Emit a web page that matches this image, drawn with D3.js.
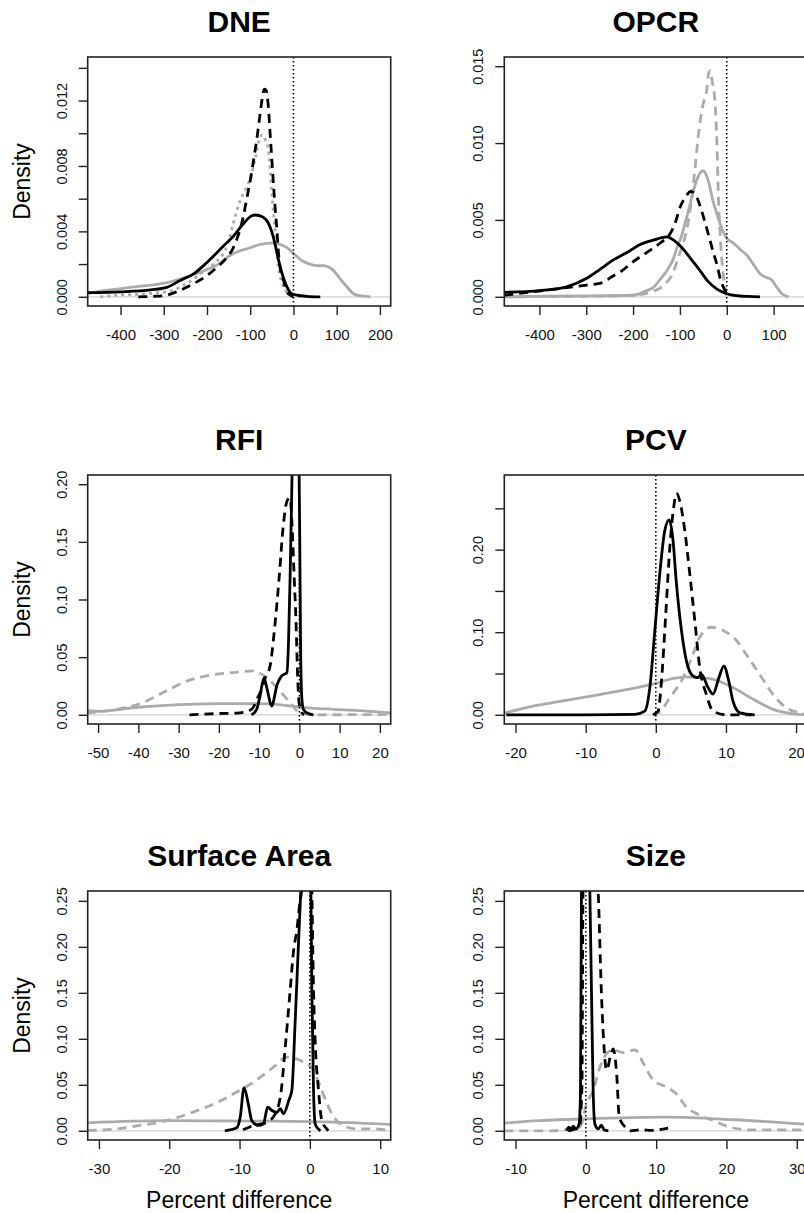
<!DOCTYPE html>
<html>
<head>
<meta charset="utf-8">
<script src="https://cdn.jsdelivr.net/npm/d3@7"></script>
<style>
  body { margin: 0; background: #fff; }
  svg { display: block; font-family: "Liberation Sans", Arial, sans-serif; }
</style>
</head>
<body>
<div id="chart"></div>
<script>
// panel titles, in reading order
var titles = ["DNE", "OPCR", "RFI", "PCV", "Surface Area", "Size"];

// data ranges of each panel (R pads them by 4%)
var xLimits = [[-450, 199], [-451, 148], [-49.8, 19.9], [-20, 20], [-30, 9.9], [-10, 29.9]];
var yLimits = [[0, 0.0141], [0, 0.015], [0, 0.2], [0, 0.2792], [0, 0.2507], [0, 0.2507]];

var xTicks = [
  [-400, -300, -200, -100, 0, 100, 200],
  [-400, -300, -200, -100, 0, 100],
  [-50, -40, -30, -20, -10, 0, 10, 20],
  [-20, -10, 0, 10, 20],
  [-30, -20, -10, 0, 10],
  [-10, 0, 10, 20, 30]
];
var yTicks = [
  [0, 0.002, 0.004, 0.006, 0.008, 0.010, 0.012, 0.014],
  [0, 0.005, 0.010, 0.015],
  [0, 0.05, 0.10, 0.15, 0.20],
  [0, 0.05, 0.10, 0.15, 0.20, 0.25],
  [0, 0.05, 0.10, 0.15, 0.20, 0.25],
  [0, 0.05, 0.10, 0.15, 0.20, 0.25]
];
var yTickLabels = [
  ["0.000", "", "0.004", "", "0.008", "", "0.012", ""],
  ["0.000", "0.005", "0.010", "0.015"],
  ["0.00", "0.05", "0.10", "0.15", "0.20"],
  ["0.00", "", "0.10", "", "0.20", ""],
  ["0.00", "0.05", "0.10", "0.15", "0.20", "0.25"],
  ["0.00", "0.05", "0.10", "0.15", "0.20", "0.25"]
];

// density curves, [percent difference, density]
var dneBlackSolid = [[-476,0.00025],[-400,0.0003],[-330,0.00042],[-293,0.00057],[-262,0.001],[-231,0.0014],[-200,0.0021],[-162,0.0031],[-139,0.0037],[-115,0.0045],[-100,0.0049],[-88,0.005],[-72,0.0049],[-58,0.0045],[-45,0.0035],[-35,0.0023],[-25,0.0013],[-15,0.0006],[-5,0.0002],[8,0.0001],[30,0.00003],[62,0]];
var dneBlackDashed = [[-359,0],[-320,0.00003],[-293,0.0001],[-262,0.0004],[-231,0.0008],[-200,0.0013],[-177,0.0018],[-154,0.0024],[-139,0.003],[-125,0.004],[-116,0.0049],[-108,0.006],[-100,0.0071],[-92,0.0084],[-85,0.0096],[-78,0.011],[-73,0.012],[-67,0.0127],[-63,0.0126],[-58,0.0116],[-54,0.01],[-50,0.0084],[-46,0.0068],[-42,0.0053],[-38,0.004],[-34.7,0.0027],[-29,0.0015],[-23,0.001],[-15,0.0003],[-7.6,0.0001],[0,0]];
var dneGraySolid = [[-476,0.0002],[-430,0.0004],[-370,0.0006],[-293,0.00086],[-250,0.0012],[-216,0.0015],[-180,0.0019],[-139,0.00265],[-100,0.003],[-77,0.0032],[-45,0.0033],[-30,0.0032],[-15,0.003],[0,0.00265],[20,0.0022],[38,0.002],[55,0.0019],[69,0.0019],[82,0.0018],[93,0.0016],[108,0.0011],[124,0.0006],[138,0.0002],[150,0.00008],[178,0]];
var dneGrayDotted = [[-447,0],[-400,0.0001],[-330,0.0002],[-278,0.0004],[-262,0.0006],[-235,0.001],[-216,0.0014],[-185,0.002],[-154,0.0031],[-135,0.0049],[-123,0.0059],[-110,0.0066],[-98,0.0074],[-88,0.0085],[-80,0.0095],[-73,0.0099],[-65,0.0096],[-58,0.009],[-50,0.0063],[-42,0.0039],[-34.7,0.0018],[-26,0.0008],[-19,0.0004],[0,0.0001],[20,0]];

var opcrBlackSolid = [[-475,0.00029],[-400,0.0004],[-342,0.00065],[-299,0.0012],[-270,0.0018],[-242,0.0024],[-212,0.0029],[-185,0.0034],[-155,0.0037],[-128,0.0039],[-110,0.0036],[-93,0.0031],[-75,0.0024],[-57,0.0017],[-40,0.001],[-21,0.0005],[0,0.0002],[20,0.00007],[45,0.00002],[71,0]];
var opcrBlackDashed = [[-475,0.0001],[-420,0.0003],[-342,0.0006],[-299,0.00076],[-271,0.00087],[-240,0.0014],[-228,0.0016],[-199,0.0023],[-185,0.0026],[-160,0.0031],[-142,0.0035],[-121,0.0041],[-110,0.0048],[-100,0.0058],[-88,0.0065],[-77,0.00685],[-66,0.0066],[-57,0.0059],[-46,0.0048],[-36,0.0037],[-28,0.0028],[-21,0.0021],[-14,0.0012],[-7,0.0006],[0,0.0002],[5,0]];
var opcrGraySolid = [[-475,0],[-340,0.00005],[-200,0.0001],[-171,0.0004],[-157,0.0006],[-143,0.0011],[-128,0.0017],[-115,0.0024],[-105,0.0033],[-96,0.004],[-88,0.0049],[-80,0.0058],[-72,0.0068],[-64,0.0076],[-56,0.0081],[-51,0.0082],[-45,0.008],[-39,0.0075],[-30,0.0063],[-20,0.0053],[-10,0.0044],[0,0.0038],[14,0.0035],[28,0.0031],[43,0.0027],[57,0.0021],[71,0.0015],[85,0.00125],[96,0.0011],[105,0.0007],[117,0.00022],[132,0]];
var opcrGrayDashed = [[-475,0],[-300,0.00003],[-200,0.0001],[-150,0.00044],[-130,0.0009],[-117,0.0014],[-103,0.0026],[-95,0.0033],[-89,0.0039],[-78,0.0057],[-68,0.0083],[-61,0.0104],[-55,0.0118],[-50,0.0126],[-44,0.0132],[-38,0.0146],[-35,0.0147],[-31,0.014],[-25,0.0126],[-21,0.01],[-18,0.0067],[-13,0.0035],[-7,0.0013],[0,0.0001],[10,0]];

var rfiBlackSolid = [[-11.9,0],[-10.6,0.0047],[-9.8,0.016],[-8.8,0.032],[-8,0.022],[-6.9,0.0076],[-5.5,0.0265],[-4.4,0.0337],[-3.1,0.0366],[-2.7,0.063],[-2.3,0.12],[-1.9,0.193],[-1.5,0.26],[-0.9,0.32],[-0.4,0.3],[-0.2,0.26],[0.1,0.15],[0.3,0.06],[0.6,0.015],[1,0.0047],[2.2,0.001],[3.5,0]];
var rfiBlackDashed = [[-27.3,0],[-20.6,0.001],[-14.8,0.0017],[-11.9,0.0047],[-10.2,0.016],[-9.4,0.022],[-8.6,0.031],[-7.3,0.042],[-6.1,0.077],[-5,0.12],[-4,0.164],[-3,0.186],[-2.3,0.188],[-1.9,0.17],[-1.3,0.12],[-0.8,0.077],[-0.5,0.04],[-0.07,0.0105],[0.6,0.0017],[1.2,0]];
var rfiGraySolid = [[-52.8,0.0035],[-49.5,0.003],[-41.4,0.0061],[-33.1,0.0082],[-19.8,0.0096],[-9.8,0.0096],[-4,0.0084],[0.2,0.0067],[8.5,0.0047],[16.8,0.0032],[22.8,0.0017]];
var rfiGrayDashed = [[-52.8,0.0017],[-45.5,0.0047],[-38.9,0.0105],[-33.1,0.0206],[-28.1,0.029],[-23.1,0.0337],[-16.5,0.0366],[-11.5,0.038],[-8.1,0.032],[-4.8,0.0206],[-2.3,0.0105],[0.17,0.0017],[5.2,0],[22.8,0.0003]];

var pcvBlackSolid = [[-21.3,0],[-10,0],[-3,0.0005],[-1.57,0.0045],[-0.85,0.033],[-0.14,0.102],[0.57,0.171],[1.28,0.223],[1.9,0.236],[2.46,0.211],[2.9,0.163],[3.66,0.102],[4.37,0.065],[5.3,0.047],[6,0.045],[6.5,0.049],[7.45,0.033],[8.16,0.025],[9,0.045],[9.7,0.059],[10.4,0.041],[11,0.0167],[12,0.0024],[14.1,0]];
var pcvBlackDashed = [[-0.38,0],[0.33,0.0045],[0.81,0.041],[1.42,0.122],[2,0.203],[2.56,0.252],[2.95,0.268],[3.5,0.256],[4.13,0.223],[4.84,0.171],[5.56,0.114],[6.27,0.057],[7.2,0.0248],[8.16,0.0045],[10,0],[13.6,0]];
var pcvGraySolid = [[-21.6,0.002],[-17.5,0.0106],[-13,0.017],[-8,0.0245],[-5.1,0.029],[-0.4,0.037],[2.5,0.044],[4.4,0.046],[6,0.045],[8.2,0.043],[11,0.033],[13.9,0.0187],[16.7,0.0066],[19.6,0.0012],[21.6,0]];
var pcvGrayDashed = [[-0.5,0],[0.5,0.003],[2,0.0207],[3.9,0.045],[5.3,0.073],[6.27,0.094],[7.9,0.106],[9.6,0.102],[11.5,0.09],[12.9,0.073],[14.8,0.049],[16.7,0.0248],[18.6,0.0085],[20.5,0.0024],[21.6,0]];

var areaBlackSolid = [[-12.1,0],[-10.4,0.0033],[-9.9,0.015],[-9.36,0.047],[-8.75,0.029],[-8.26,0.011],[-7.3,0.0058],[-6.6,0.0076],[-6,0.0257],[-5.4,0.022],[-4.7,0.02],[-4.2,0.024],[-3.76,0.0185],[-3,0.033],[-2.56,0.044],[-2.1,0.117],[-1.6,0.207],[-1.28,0.262],[-0.6,0.33],[0,0.3],[0.14,0.262],[0.28,0.153],[0.52,0.044],[0.75,0.0076],[1.2,0.002],[1.5,0]];
var areaBlackDashed = [[-9.5,0.001],[-8,0.0058],[-6.5,0.008],[-5.2,0.015],[-4.2,0.0366],[-3.5,0.091],[-2.8,0.153],[-2.3,0.197],[-1.85,0.218],[-1.48,0.244],[-1.14,0.262],[-0.5,0.3],[0.2,0.28],[0.52,0.153],[0.75,0.098],[1.23,0.044],[1.7,0.011],[2.4,0.002],[2.6,0]];
var areaGraySolid = [[-31.6,0.0087],[-20.4,0.011],[-6.1,0.0105],[3.4,0.0094],[11.5,0.0069]];
var areaGrayDashed = [[-31.6,0.0003],[-27.5,0.002],[-24.2,0.0058],[-20.4,0.011],[-16.6,0.0203],[-13.7,0.029],[-10.9,0.04],[-8,0.053],[-5.2,0.069],[-3.3,0.08],[-1.4,0.0766],[0.5,0.066],[1.5,0.0475],[2.9,0.022],[4.3,0.0076],[6.7,0.002],[9,0.002],[11.5,0]];

var sizeBlackSolid = [[-2.75,0],[-2.4,0.004],[-2.1,0.001],[-1.8,0.005],[-1.4,0.002],[-0.95,0.0076],[-0.76,0.044],[-0.62,0.262],[0,0.5],[0.57,0.262],[0.8,0.153],[1.04,0.044],[1.28,0.0076],[1.75,0.002],[2.2,0.006],[2.6,0.001],[3.2,0]];
var sizeBlackDashed = [[-2.5,0],[-1.5,0.002],[-0.9,0.004],[-0.55,0.05],[-0.4,0.262],[0.5,0.45],[1.5,0.3],[1.75,0.262],[2.2,0.153],[2.5,0.102],[2.95,0.066],[3.66,0.086],[3.9,0.089],[4.4,0.06],[4.75,0.015],[5.6,0.004],[6.3,0],[7.7,0.001],[9.5,0.0005],[11.7,0.003]];
var sizeGraySolid = [[-11.6,0.0083],[-6.55,0.011],[0.1,0.013],[11.5,0.0148],[21,0.012],[31.5,0.0069]];
var sizeGrayDashed = [[-11.6,0],[-5.1,0],[-0.85,0.004],[0.1,0.029],[1.04,0.044],[2,0.069],[2.95,0.084],[3.9,0.088],[5.3,0.085],[7,0.088],[8.2,0.073],[9.6,0.055],[11.5,0.0475],[12.9,0.04],[14.3,0.0257],[15.8,0.0185],[18.1,0.011],[20.5,0.004],[22.9,0.001],[31.5,0.001]];

// per panel: [graySolid, grayBroken, blackSolid, blackDashed]
var curves = [
  [dneGraySolid, dneGrayDotted, dneBlackSolid, dneBlackDashed],
  [opcrGraySolid, opcrGrayDashed, opcrBlackSolid, opcrBlackDashed],
  [rfiGraySolid, rfiGrayDashed, rfiBlackSolid, rfiBlackDashed],
  [pcvGraySolid, pcvGrayDashed, pcvBlackSolid, pcvBlackDashed],
  [areaGraySolid, areaGrayDashed, areaBlackSolid, areaBlackDashed],
  [sizeGraySolid, sizeGrayDashed, sizeBlackSolid, sizeBlackDashed]
];

var W = 804, H = 1213,
  boxW = 303, boxH = 249,
  colLeft = [87.7, 504.3],
  rowTop = [57, 475, 891],
  gray = "#ababab";

var svg = d3.select("#chart").append("svg")
  .attr("width", W)
  .attr("height", H);

svg.append("rect").attr("width", W).attr("height", H).attr("fill", "#fff");

function pad(lim) {
  var d = (lim[1] - lim[0]) * 0.04;
  return [lim[0] - d, lim[1] + d];
}

titles.forEach(function(title, i) {
  var col = i % 2,
    row = Math.floor(i / 2),
    g = svg.append("g").attr("transform", "translate(" + colLeft[col] + "," + rowTop[row] + ")"),
    x = d3.scaleLinear().domain(pad(xLimits[i])).range([0, boxW]),
    y = d3.scaleLinear().domain(pad(yLimits[i])).range([boxH, 0]),
    clipId = "clip" + i;

  g.append("clipPath").attr("id", clipId)
    .append("rect").attr("width", boxW).attr("height", boxH);

  var plot = g.append("g").attr("clip-path", "url(#" + clipId + ")");

  // zero line
  plot.append("line")
    .attr("x1", 0).attr("x2", boxW)
    .attr("y1", y(0)).attr("y2", y(0))
    .attr("stroke", "#d2d2d2")
    .attr("stroke-width", 1.2);

  var line = d3.line()
    .x(function(d) { return x(d[0]); })
    .y(function(d) { return y(d[1]); })
    .curve(d3.curveMonotoneX);

  var styles = [
    { stroke: gray, dash: null },
    { stroke: gray, dash: i === 0 ? "3,4" : "9,6" },
    { stroke: "#000", dash: null },
    { stroke: "#000", dash: "9,6" }
  ];

  curves[i].forEach(function(c, k) {
    plot.append("path")
      .datum(c)
      .attr("fill", "none")
      .attr("stroke", styles[k].stroke)
      .attr("stroke-width", 2.8)
      .attr("stroke-linejoin", "round")
      .attr("stroke-dasharray", styles[k].dash)
      .attr("d", line);
  });

  // reference at zero difference
  plot.append("line")
    .attr("x1", x(0)).attr("x2", x(0))
    .attr("y1", 0).attr("y2", boxH)
    .attr("stroke", "#000")
    .attr("stroke-width", 1.6)
    .attr("stroke-dasharray", "1.5,2.5");

  g.append("rect")
    .attr("width", boxW).attr("height", boxH)
    .attr("fill", "none")
    .attr("stroke", "#222")
    .attr("stroke-width", 1.6);

  var gx = g.append("g")
    .attr("transform", "translate(0," + boxH + ")")
    .call(d3.axisBottom(x).tickValues(xTicks[i]).tickSize(9)
      .tickFormat(function(d) { return String(d); }));
  gx.select(".domain").remove();
  gx.attr("font-family", null).attr("font-size", null);
  gx.selectAll("line").attr("stroke", "#222").attr("stroke-width", 1.4);
  gx.selectAll("text")
    .attr("y", 34).attr("dy", null)
    .attr("fill", "#111")
    .attr("font-size", 15);

  var labels = yTickLabels[i];
  var gy = g.append("g")
    .call(d3.axisLeft(y).tickValues(yTicks[i]).tickSize(9)
      .tickFormat(function(d, j) { return labels[j]; }));
  gy.select(".domain").remove();
  gy.attr("font-family", null).attr("font-size", null);
  gy.selectAll("line").attr("stroke", "#222").attr("stroke-width", 1.4);
  gy.selectAll("text")
    .attr("x", 0).attr("dy", null)
    .attr("text-anchor", "middle")
    .attr("transform", "translate(-21,0) rotate(-90)")
    .attr("fill", "#111")
    .attr("font-size", 14.5);

  g.append("text")
    .attr("x", boxW / 2)
    .attr("y", -25.5)
    .attr("text-anchor", "middle")
    .attr("font-weight", "bold")
    .attr("font-size", 30)
    .text(title);

  if (col === 0) {
    g.append("text")
      .attr("transform", "translate(" + (30.5 - colLeft[0]) + "," + (boxH / 2) + ") rotate(-90)")
      .attr("text-anchor", "middle")
      .attr("font-size", 23)
      .text("Density");
  }

  if (row === 2) {
    g.append("text")
      .attr("x", boxW / 2)
      .attr("y", boxH + 68)
      .attr("text-anchor", "middle")
      .attr("font-size", 23)
      .text("Percent difference");
  }
});
</script>
</body>
</html>
